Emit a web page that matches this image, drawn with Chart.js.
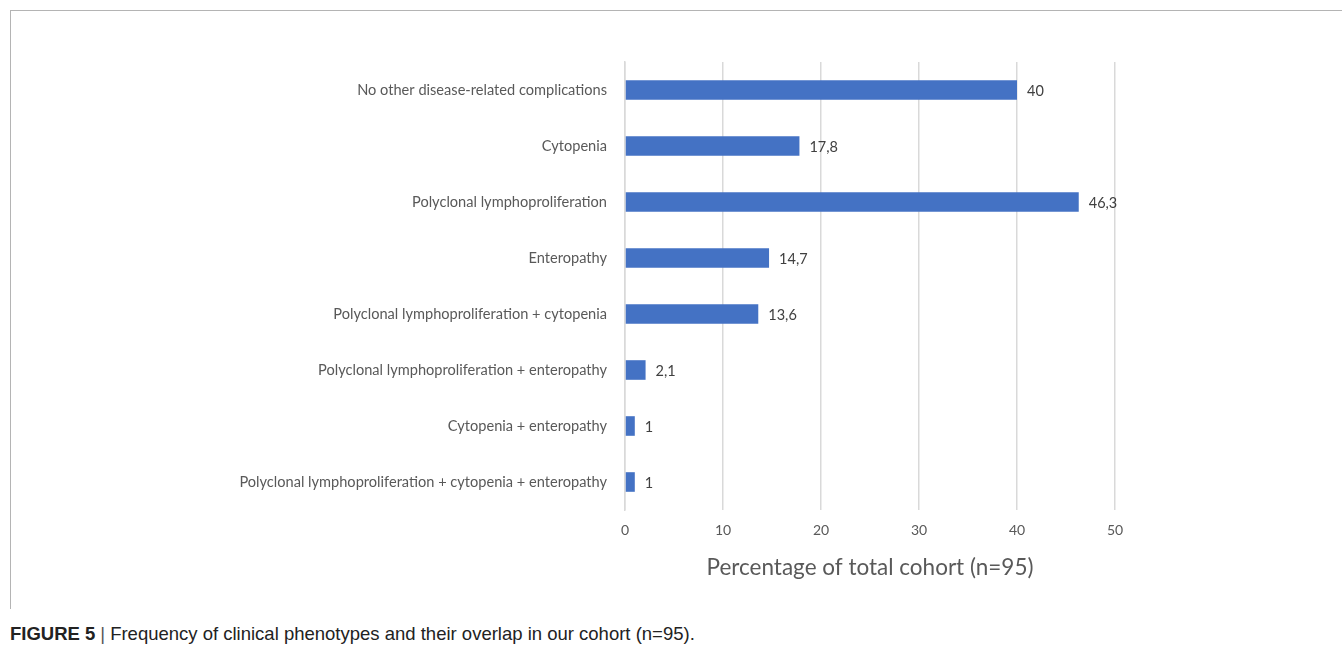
<!DOCTYPE html>
<html>
<head>
<meta charset="utf-8">
<script src="https://cdn.jsdelivr.net/npm/chart.js@4.4.1/dist/chart.umd.min.js"></script>
<style>
  html, body { margin: 0; padding: 0; background: #fff; }
  body { width: 1342px; height: 648px; position: relative; overflow: hidden; }
  #frame {
    position: absolute; left: 10px; top: 10px; width: 1340px; height: 598px;
    border-top: 1px solid #b4b4b4; border-left: 1px solid #b4b4b4;
  }
  #wrap { position: absolute; left: 11px; top: 11px; width: 1331px; height: 590px; }
  #caption {
    position: absolute; left: 10px; top: 623px;
    font-family: 'Liberation Sans', Arial, sans-serif;
    font-size: 18.5px; color: #222; white-space: nowrap;
  }
  #caption b { font-weight: bold; }
  #caption .sep { color: #555; padding: 0 5px; }
</style>
</head>
<body>
<div id="frame"></div>
<div id="wrap"><canvas id="phenotype-chart"></canvas></div>
<div id="caption"><b>FIGURE 5</b><span class="sep">|</span>Frequency of clinical phenotypes and their overlap in our cohort (n=95).</div>
<script>
(function() {
  'use strict';

  var BLUE = '#4472C4';
  var TEXT_COLOR = '#595959';
  var VALUE_COLOR = '#404040';
  var GRID_COLOR = '#d9d9d9';
  var FONT = "Lato, 'Open Sans', sans-serif";

  var categories = [
    'No other disease-related complications',
    'Cytopenia',
    'Polyclonal lymphoproliferation',
    'Enteropathy',
    'Polyclonal lymphoproliferation + cytopenia',
    'Polyclonal lymphoproliferation + enteropathy',
    'Cytopenia + enteropathy',
    'Polyclonal lymphoproliferation + cytopenia + enteropathy'
  ];
  var percentages = [40, 17.8, 46.3, 14.7, 13.6, 2.1, 1, 1];
  var xTicks = [0, 10, 20, 30, 40, 50];

  // value labels after each bar, decimal comma like the original
  var valueLabels = {
    id: 'valueLabels',
    afterDatasetsDraw: function(chart) {
      var ctx = chart.ctx;
      var meta = chart.getDatasetMeta(0);
      ctx.save();
      ctx.font = '14.5px ' + FONT;
      ctx.fillStyle = VALUE_COLOR;
      ctx.textAlign = 'left';
      ctx.textBaseline = 'middle';
      meta.data.forEach(function(bar, i) {
        var txt = String(percentages[i]).replace('.', ',');
        ctx.fillText(txt, bar.x + 10, bar.y + 1);
      });
      ctx.restore();
    }
  };

  new Chart(document.getElementById('phenotype-chart'), {
    type: 'bar',
    data: {
      labels: categories,
      datasets: [{
        data: percentages,
        backgroundColor: BLUE,
        borderWidth: 0,
        barPercentage: 0.35,
        categoryPercentage: 1.0
      }]
    },
    options: {
      indexAxis: 'y',
      responsive: true,
      maintainAspectRatio: false,
      animation: false,
      layout: { padding: { top: 51, right: 227, bottom: 0, left: 0 } },
      plugins: {
        legend: { display: false },
        tooltip: { enabled: false }
      },
      scales: {
        x: {
          min: 0,
          max: 50,
          afterBuildTicks: function(scale) {
            scale.ticks = xTicks.map(function(v) { return { value: v }; });
          },
          afterFit: function(scale) { scale.height = 91; },
          ticks: {
            color: TEXT_COLOR,
            font: { family: FONT, size: 14 },
            padding: 12
          },
          grid: { color: GRID_COLOR, lineWidth: 1.5, drawTicks: false },
          border: { display: false },
          title: {
            display: true,
            text: 'Percentage of total cohort (n=95)',
            color: TEXT_COLOR,
            font: { family: FONT, size: 22.5 },
            padding: { top: 0, bottom: 20 }
          }
        },
        y: {
          afterFit: function(scale) { scale.width = 614; },
          ticks: {
            color: TEXT_COLOR,
            font: { family: FONT, size: 14.6 },
            padding: 18
          },
          grid: { display: false, drawTicks: false },
          border: { display: true, color: GRID_COLOR, width: 1.5 }
        }
      }
    },
    plugins: [valueLabels]
  });
})();
</script>
</body>
</html>
